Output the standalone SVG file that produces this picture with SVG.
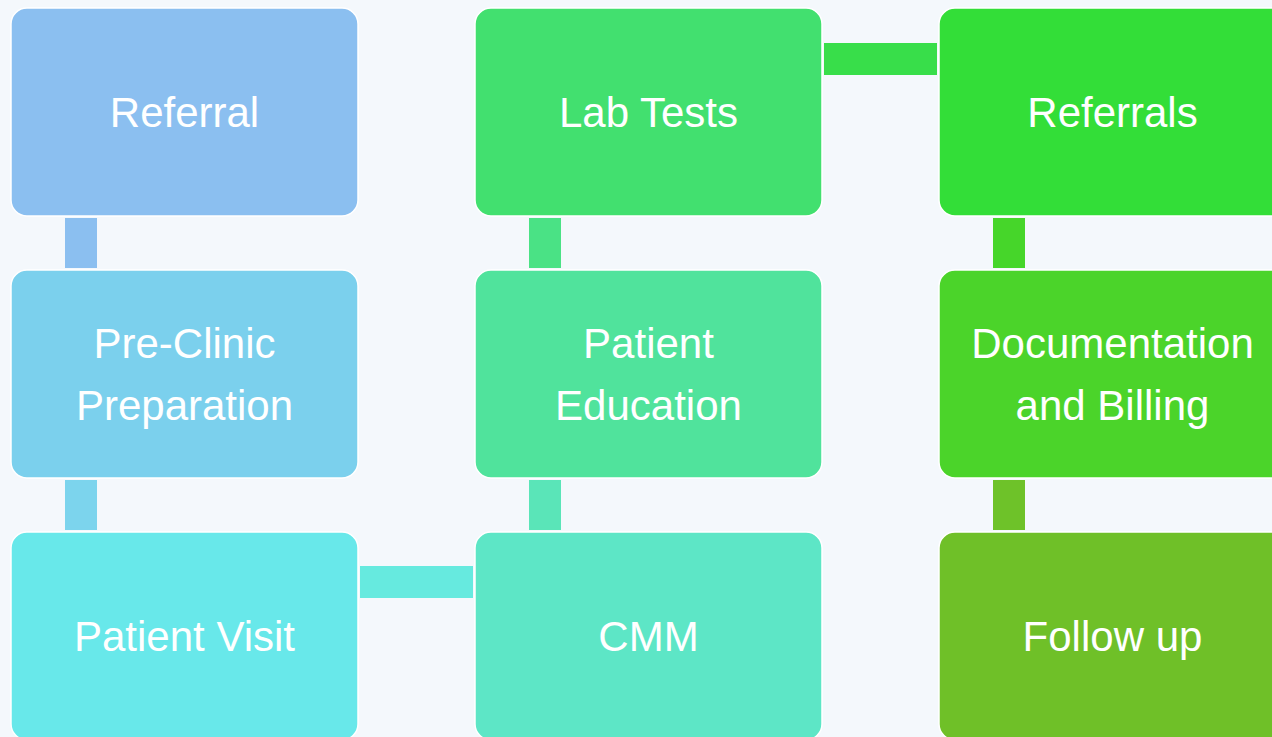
<svg xmlns="http://www.w3.org/2000/svg" width="1272" height="737" viewBox="0 0 1272 737">
<style>
.node rect{stroke:#ffffff;stroke-width:1.5}
.node text{font-family:"Liberation Sans","Noto Sans",sans-serif;font-size:42px;fill:#ffffff;text-anchor:middle;dominant-baseline:central}
</style>
<rect x="0" y="0" width="1272" height="737" fill="#f4f8fc"/>
<g id="connectors">
<rect x="65" y="218" width="32" height="50" fill="#8bbff0"/>
<rect x="65" y="480" width="32" height="50" fill="#7cd4ed"/>
<rect x="360" y="566" width="113" height="32" fill="#66eadf"/>
<rect x="529" y="480" width="32" height="50" fill="#5ae5b8"/>
<rect x="529" y="218" width="32" height="50" fill="#4ae285"/>
<rect x="824" y="43" width="113" height="32" fill="#38de4a"/>
<rect x="993" y="218" width="32" height="50" fill="#46d62a"/>
<rect x="993" y="480" width="32" height="50" fill="#6ec229"/>
</g>
<g id="n-referral" class="node"><rect x="11" y="8" width="347" height="208" rx="16" fill="#8bbff0"/><text x="184.5" y="112">Referral</text></g>
<g id="n-preclinic" class="node"><rect x="11" y="270" width="347" height="208" rx="16" fill="#7bd0ed"/><text x="184.5" y="343">Pre-Clinic</text><text x="184.5" y="405">Preparation</text></g>
<g id="n-patientvisit" class="node"><rect x="11" y="532" width="347" height="208" rx="16" fill="#68e8ea"/><text x="184.5" y="636">Patient Visit</text></g>
<g id="n-cmm" class="node"><rect x="475" y="532" width="347" height="208" rx="16" fill="#5de6c6"/><text x="648.5" y="636">CMM</text></g>
<g id="n-patiented" class="node"><rect x="475" y="270" width="347" height="208" rx="16" fill="#50e39c"/><text x="648.5" y="343">Patient</text><text x="648.5" y="405">Education</text></g>
<g id="n-labtests" class="node"><rect x="475" y="8" width="347" height="208" rx="16" fill="#42e06f"/><text x="648.5" y="112">Lab Tests</text></g>
<g id="n-referrals" class="node"><rect x="939" y="8" width="347" height="208" rx="16" fill="#33de38"/><text x="1112.5" y="112">Referrals</text></g>
<g id="n-documentation" class="node"><rect x="939" y="270" width="347" height="208" rx="16" fill="#4bd42a"/><text x="1112.5" y="343">Documentation</text><text x="1112.5" y="405">and Billing</text></g>
<g id="n-followup" class="node"><rect x="939" y="532" width="347" height="208" rx="16" fill="#6fc028"/><text x="1112.5" y="636">Follow up</text></g>
</svg>
